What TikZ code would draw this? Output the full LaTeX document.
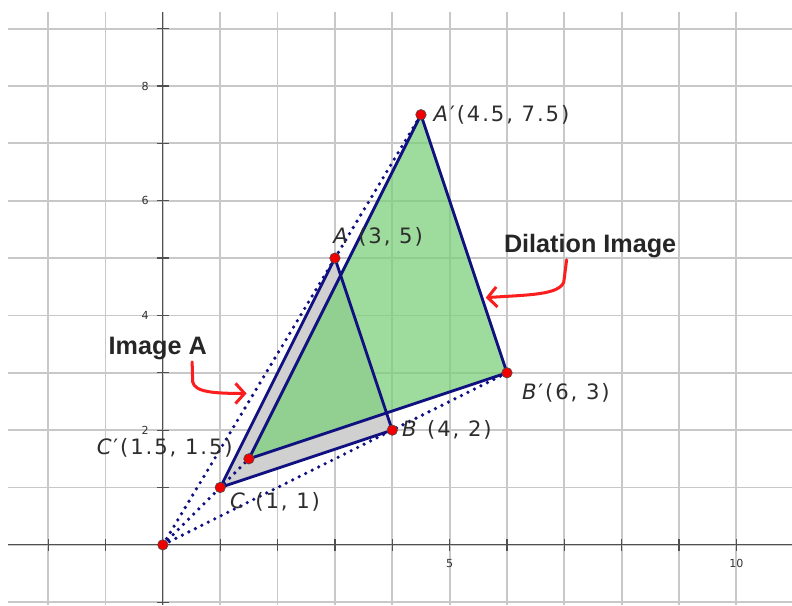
\documentclass[tikz,border=0pt]{standalone}
\usepackage{fontspec}
\setmainfont{DejaVu Sans}
\newfontfamily\notefont{Liberation Sans}
\newfontfamily\labelfont[LetterSpace=9]{DejaVu Sans}
\usetikzlibrary{arrows.meta}

\definecolor{gridgray}{RGB}{200,200,200}
\definecolor{axisgray}{RGB}{80,80,80}
\definecolor{edgeblue}{RGB}{16,16,128}
\definecolor{imagegray}{RGB}{208,208,208}
\definecolor{dilgreen}{RGB}{125,208,125}
\definecolor{pointred}{RGB}{240,0,0}
\definecolor{notered}{RGB}{250,30,30}
\definecolor{labelgray}{RGB}{45,45,45}

\begin{document}
\begin{tikzpicture}[>=latex,
    gridline/.style={gridgray, line width=0.9pt},
    axisline/.style={axisgray, line width=0.6pt},
    ticklabel/.style={font=\fontsize{5.5}{6}\selectfont, text=black!80, inner sep=0pt},
    edge/.style={edgeblue, line width=1.4pt, line join=round},
    ray/.style={edgeblue, line width=1.8pt, line cap=round, dash pattern=on 0pt off 3.6pt},
    pt/.style={circle, fill=pointred, draw=black!70, line width=0.3pt, inner sep=0pt, minimum size=5.2pt},
    coordlabel/.style={font=\labelfont\fontsize{10.5}{12}\selectfont, text=labelgray, inner sep=1pt},
    note/.style={font=\notefont\bfseries\fontsize{12.5}{14}\selectfont, text=black!85},
    notearrow/.style={notered, line width=1.5pt, line cap=round, line join=round, -{Straight Barb[length=4.5pt, width=10pt, line width=1.5pt]}}]

        % ==== PICTURE SIZE ====
        \useasboundingbox (-2.84,-1.05) rectangle (10.97,9.5);

        % ==== GRID ====
        \foreach \y in {-1,...,9} \draw[gridline] (-2.7,\y) -- (10.97,\y);
        \foreach \x in {-2,...,10} \draw[gridline] (\x,9.29) -- (\x,-1.05);

        % ==== AXES ====
        \draw[axisline] (-2.7,0) -- (10.97,0);
        \draw[axisline] (0,9.29) -- (0,-1.05);
        \foreach \x in {-2,...,10} \draw[axisline] (\x,-0.1) -- (\x,0.1);
        \foreach \y in {-1,...,9} \draw[axisline] (-0.1,\y) -- (0.1,\y);
        \node[ticklabel] (x5) at (5,-0.33) {5};
        \node[ticklabel] (x10) at (10,-0.33) {10};
        \foreach \y in {2,4,6,8} \node[ticklabel] (y\y) at (-0.31,\y) {\y};

        % ==== POINTS ====
        \coordinate (O) at (0,0);
        \coordinate (A) at (3,5);
        \coordinate (B) at (4,2);
        \coordinate (C) at (1,1);
        \coordinate (Ap) at (4.5,7.5);
        \coordinate (Bp) at (6,3);
        \coordinate (Cp) at (1.5,1.5);

        % ==== TRIANGLES ====
        \fill[imagegray] (A) -- (B) -- (C) -- cycle;
        \fill[dilgreen, fill opacity=0.75] (Ap) -- (Bp) -- (Cp) -- cycle;

        % ==== RAYS FROM O ====
        \draw[ray] (O) -- (Ap);
        \draw[ray] (O) -- (Bp);
        \draw[ray] (O) -- (Cp);

        % ==== EDGES ====
        \draw[edge] (A) -- (B) -- (C) -- cycle;
        \draw[edge] (Ap) -- (Bp) -- (Cp) -- cycle;

        % ==== RED DOTS ====
        \foreach \p in {O,A,B,C,Ap,Bp,Cp} \node[pt] (dot\p) at (\p) {};

        % ==== LABELS ====
        \node[coordlabel, anchor=west] (labAp) at (4.68,7.5) {\textit{A}′(4.5, 7.5)};
        \node[coordlabel, anchor=west] (labA) at (2.93,5.37) {\textit{A} (3, 5)};
        \node[coordlabel, anchor=west] (labB) at (4.13,2.0) {\textit{B} (4, 2)};
        \node[coordlabel, anchor=west] (labBp) at (6.22,2.65) {\textit{B}′(6, 3)};
        \node[coordlabel, anchor=east] (labCp) at (1.26,1.69) {\textit{C}′(1.5, 1.5)};
        \node[coordlabel, anchor=west] (labC) at (1.13,0.75) {\textit{C} (1, 1)};

        % ==== NOTES ====
        \node[note] (dilnote) at (7.45,5.21) {Dilation Image};
        \node[note] (imgnote) at (-0.09,3.43) {Image A};
        \draw[notearrow] (7.04,4.97) -- (6.99,4.58) .. controls (6.9,4.36) and (6.4,4.36) .. (5.63,4.31);
        \draw[notearrow] (0.51,3.19) -- (0.52,2.84) .. controls (0.56,2.66) and (0.9,2.64) .. (1.46,2.64);

    \end{tikzpicture}
\end{document}
